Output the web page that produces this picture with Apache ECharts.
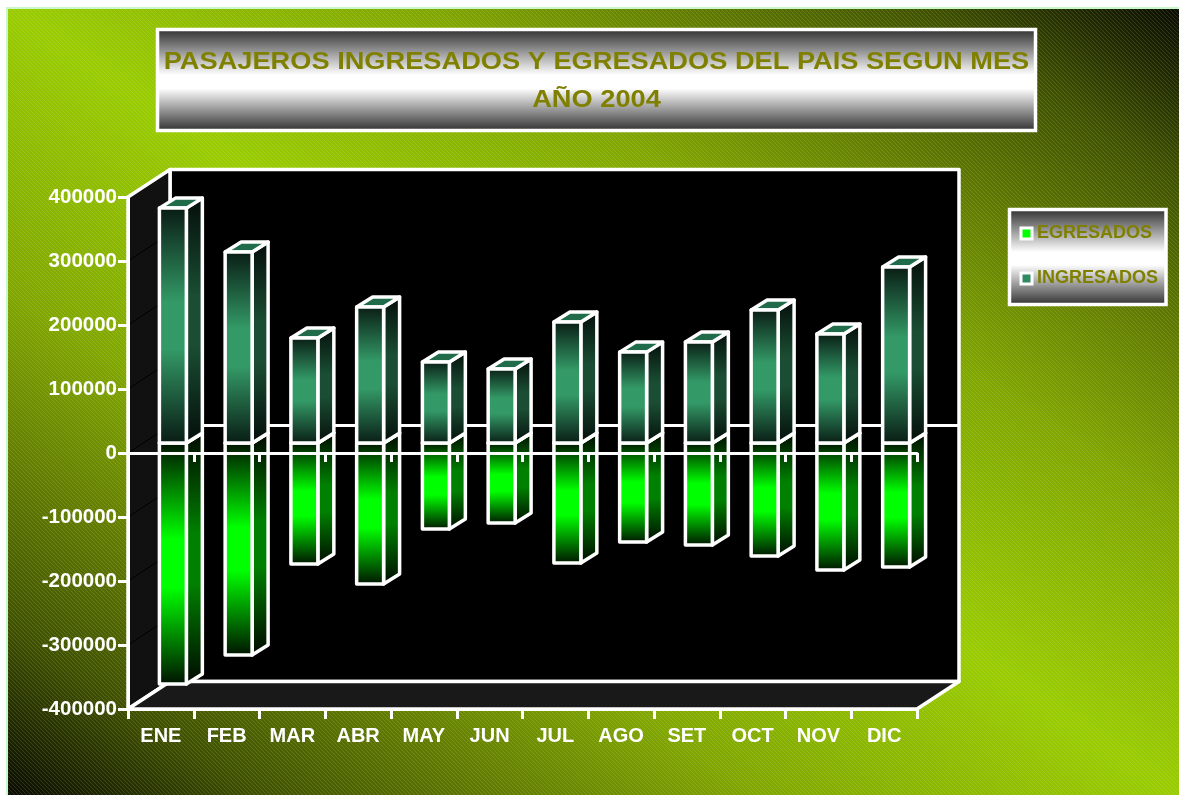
<!DOCTYPE html>
<html>
<head>
<meta charset="utf-8">
<title>Pasajeros 2004</title>
<script src="https://cdn.jsdelivr.net/npm/echarts@6/dist/echarts.min.js"></script>
<style>
html,body{margin:0;padding:0;background:#fff;}
#main{width:1179px;height:795px;}
</style>
</head>
<body>
<div id="main"></div>
<script>
var titulo = 'PASAJEROS INGRESADOS Y EGRESADOS DEL PAIS SEGUN MES\nAÑO 2004';
var meses = ['ENE','FEB','MAR','ABR','MAY','JUN','JUL','AGO','SET','OCT','NOV','DIC'];
var ingresados = [367000,298400,164000,212500,126500,115600,189000,142000,157800,207800,170300,275000];
var egresados = [-376600,-331250,-189000,-220300,-134400,-125000,-187500,-154700,-159400,-176600,-198400,-193800];
var yTicks = [-400000,-300000,-200000,-100000,0,100000,200000,300000,400000];

// profundidad del falso 3D, en pixeles
var DEPTH_X = 42, DEPTH_Y = 27.5;
var BAR_SHIFT_X = 12, BAR_SHIFT_Y = 10, BAR_DEPTH_X = 16, BAR_DEPTH_Y = 10;
var BAR_WIDTH = 0.41;
var LINE = 3.5;

var chart = echarts.init(document.getElementById('main'));

// rayas diagonales del fondo
function stripes(){
  var c = document.createElement('canvas');
  c.width = 4; c.height = 4;
  var g = c.getContext('2d');
  g.fillStyle = 'rgba(255,255,255,0.13)';
  for (var i = 0; i < 4; i++) {
    g.fillRect(i, i, 1, 1);
  }
  return c;
}

function vgrad(end, mid){
  return {type:'linear',x:0,y:0,x2:0,y2:1,colorStops:[
    {offset:0,color:end},{offset:0.4,color:mid},{offset:0.6,color:mid},{offset:1,color:end}
  ]};
}
var boxFill = {type:'linear',x:0,y:0,x2:0,y2:1,colorStops:[
  {offset:0,color:'#2a2a2a'},{offset:0.45,color:'#ffffff'},{offset:0.58,color:'#ffffff'},{offset:1,color:'#2a2a2a'}
]};

function poly(points, fill, stroke, width){
  return {type:'polygon',shape:{points:points},style:{fill:fill,stroke:stroke,lineWidth:width,lineJoin:'round'}};
}

function renderWalls(params, api){
  var cs = params.coordSys;
  var x0 = cs.x, x1 = cs.x + cs.width, y0 = cs.y, y1 = cs.y + cs.height;
  var kids = [];
  // pared de fondo
  kids.push(poly([[x0+DEPTH_X,y0-DEPTH_Y],[x1+DEPTH_X,y0-DEPTH_Y],[x1+DEPTH_X,y1-DEPTH_Y],[x0+DEPTH_X,y1-DEPTH_Y]],'#000','#fff',LINE));
  // pared izquierda
  kids.push(poly([[x0,y0],[x0+DEPTH_X,y0-DEPTH_Y],[x0+DEPTH_X,y1-DEPTH_Y],[x0,y1]],'#111111','#fff',LINE));
  // piso
  kids.push(poly([[x0,y1],[x1,y1],[x1+DEPTH_X,y1-DEPTH_Y],[x0+DEPTH_X,y1-DEPTH_Y]],'#191919','#fff',LINE));
  yTicks.forEach(function(v){
    var y = api.coord([0,v])[1];
    if (v > -400000 && v < 400000) {
      kids.push({type:'line',shape:{x1:x0,y1:y,x2:x0+DEPTH_X,y2:y-DEPTH_Y},style:{stroke:'#000',lineWidth:1}});
    }
  });
  // linea del cero sobre la pared de fondo
  var yz = api.coord([0,0])[1];
  kids.push({type:'line',shape:{x1:x0+DEPTH_X,y1:yz-DEPTH_Y,x2:x1+DEPTH_X,y2:yz-DEPTH_Y},style:{stroke:'#fff',lineWidth:3}});
  return {type:'group',children:kids};
}

function renderBar(front, side, top){
  return function(params, api){
    var p = api.coord([api.value(0), api.value(1)]);
    var base = api.coord([api.value(0), 0])[1] - BAR_SHIFT_Y;
    var w = api.size([1,0])[0] * BAR_WIDTH;
    var xa = p[0] + BAR_SHIFT_X - w/2, xb = xa + w;
    var ye = p[1] - BAR_SHIFT_Y;
    var yt = Math.min(ye, base), yb = Math.max(ye, base);
    var dx = BAR_DEPTH_X, dy = BAR_DEPTH_Y;
    return {type:'group',children:[
      poly([[xb,yt],[xb+dx,yt-dy],[xb+dx,yb-dy],[xb,yb]],side,'#fff',LINE),
      poly([[xa,yt],[xa+dx,yt-dy],[xb+dx,yt-dy],[xb,yt]],top,'#fff',LINE),
      poly([[xa,yt],[xb,yt],[xb,yb],[xa,yb]],front,'#fff',LINE)
    ]};
  };
}

var option = {
  animation:false,
  backgroundColor:'#fff',
  textStyle:{fontFamily:'Liberation Sans'},
  graphic:{elements:[
    {type:'rect',z:-10,silent:true,shape:{x:6,y:7,width:1173,height:788},style:{fill:'#c8f8c8'}},
    {type:'rect',z:-9,silent:true,shape:{x:8,y:9,width:1171,height:786},style:{
      fill:{type:'linear',global:true,x:957,y:-141,x2:229,y2:943,colorStops:[
        {offset:0,color:'#0a0c00'},{offset:0.05,color:'#222c00'},{offset:0.105,color:'#3e5000'},
        {offset:0.22,color:'#647f00'},{offset:0.32,color:'#80a600'},{offset:0.5,color:'#99cc00'},
        {offset:0.68,color:'#80a600'},{offset:0.78,color:'#647f00'},{offset:0.895,color:'#3e5000'},
        {offset:0.95,color:'#222c00'},{offset:1,color:'#0a0c00'}
      ]}
    }},
    {type:'rect',z:-8,silent:true,shape:{x:8,y:9,width:1171,height:786},style:{fill:{image:stripes(),repeat:'repeat'}}},
    // titulo: el texto original va ensanchado
    {type:'rect',z:20,silent:true,shape:{x:157.5,y:29.5,width:878,height:101},style:{fill:boxFill,stroke:'#fff',lineWidth:3.5}},
    {type:'text',z:21,silent:true,x:596.5,y:81,scaleX:1.134,style:{
      text:titulo,fill:'#808000',font:'bold 24px "Liberation Sans"',lineHeight:38,align:'center',verticalAlign:'middle'
    }}
  ]},
  legend:{
    orient:'vertical',
    left:1009.5,
    top:209.5,
    padding:[15,8,17,10],
    itemGap:27,
    itemWidth:11,
    itemHeight:11,
    backgroundColor:boxFill,
    borderColor:'#fff',
    borderWidth:3.5,
    selectedMode:false,
    textStyle:{color:'#808000',fontSize:18,fontWeight:'bold',fontFamily:'Liberation Sans',padding:[0,0,0,0]},
    data:[
      {name:'EGRESADOS',icon:'rect',itemStyle:{color:'#00ff00',borderColor:'#fff',borderWidth:3}},
      {name:'INGRESADOS',icon:'rect',itemStyle:{color:'#2e8b62',borderColor:'#fff',borderWidth:3}}
    ]
  },
  grid:{left:128,top:197,width:789,height:512},
  xAxis:[
    {type:'category',data:meses,position:'bottom',z:10,
      axisLine:{onZero:false,lineStyle:{color:'#fff',width:3}},
      axisTick:{show:true,length:10,lineStyle:{color:'#fff',width:3}},
      axisLabel:{color:'#fff',fontSize:20,fontWeight:'bold',margin:17,interval:0,fontFamily:'Liberation Sans'},
      splitLine:{show:false}},
    {type:'category',data:meses,z:10,
      axisLine:{onZero:true,lineStyle:{color:'#fff',width:3}},
      axisTick:{show:true,inside:true,length:9,lineStyle:{color:'#fff',width:3}},
      axisLabel:{show:false},
      splitLine:{show:false}}
  ],
  yAxis:{type:'value',min:-400000,max:400000,interval:100000,z:10,
    axisLine:{show:true,onZero:false,lineStyle:{color:'#fff',width:3}},
    axisTick:{show:true,length:10,lineStyle:{color:'#fff',width:3}},
    axisLabel:{color:'#fff',fontSize:20.5,fontWeight:'bold',margin:11,fontFamily:'Liberation Sans',
      formatter:function(v){return String(v);}},
    splitLine:{show:false}},
  series:[
    {type:'custom',name:'paredes',silent:true,z:1,data:[[0,0]],renderItem:renderWalls},
    {type:'custom',name:'EGRESADOS',silent:true,z:2,itemStyle:{color:'#00ff00'},
      encode:{x:0,y:1},
      data:meses.map(function(m,i){return [i,egresados[i]];}),
      renderItem:renderBar(vgrad('#001000','#00ff00'),vgrad('#000800','#008000'),'#008000')},
    {type:'custom',name:'INGRESADOS',silent:true,z:3,itemStyle:{color:'#339966'},
      encode:{x:0,y:1},
      data:meses.map(function(m,i){return [i,ingresados[i]];}),
      renderItem:renderBar(vgrad('#081a13','#339966'),vgrad('#040d0a','#1a4d33'),'#1f6b4a')}
  ]
};
chart.setOption(option);
</script>
</body>
</html>
